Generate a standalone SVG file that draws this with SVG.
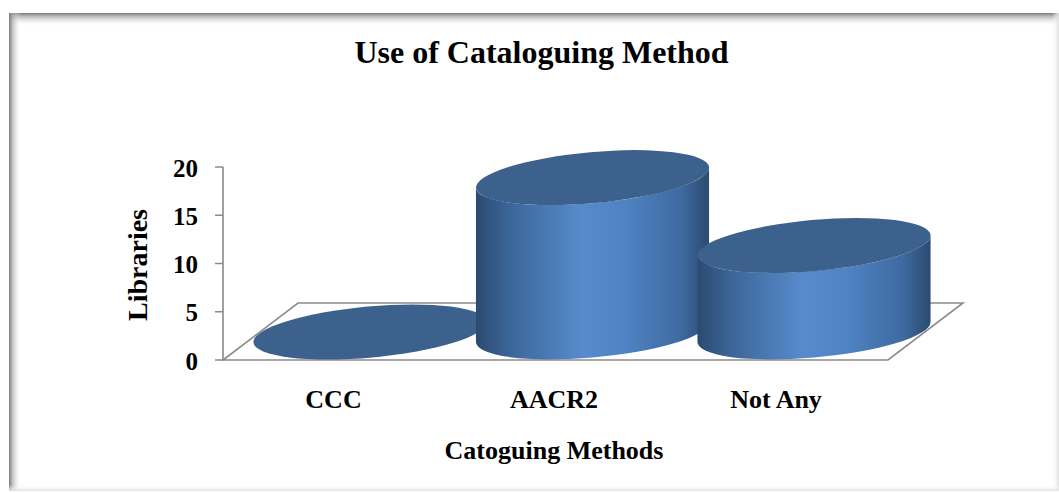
<svg xmlns="http://www.w3.org/2000/svg" width="1059" height="493" viewBox="0 0 1059 493">
<defs>
<linearGradient id="shTop" x1="0" y1="0" x2="0" y2="1">
<stop offset="0" stop-color="#7a7a7a" stop-opacity="1"/>
<stop offset="0.3" stop-color="#a8a8a8" stop-opacity="0.7"/>
<stop offset="1" stop-color="#ffffff" stop-opacity="0"/>
</linearGradient>
<linearGradient id="shLeft" x1="0" y1="0" x2="1" y2="0">
<stop offset="0" stop-color="#7a7a7a" stop-opacity="1"/>
<stop offset="0.3" stop-color="#a8a8a8" stop-opacity="0.7"/>
<stop offset="1" stop-color="#ffffff" stop-opacity="0"/>
</linearGradient>
<linearGradient id="shRight" x1="1" y1="0" x2="0" y2="0">
<stop offset="0" stop-color="#e0e0e0" stop-opacity="1"/>
<stop offset="1" stop-color="#ffffff" stop-opacity="0"/>
</linearGradient>
<linearGradient id="shBottom" x1="0" y1="1" x2="0" y2="0">
<stop offset="0" stop-color="#e0e0e0" stop-opacity="1"/>
<stop offset="1" stop-color="#ffffff" stop-opacity="0"/>
</linearGradient>
<linearGradient id="side" x1="0" y1="0" x2="1" y2="0">
<stop offset="0" stop-color="#2c4a70"/>
<stop offset="0.15" stop-color="#3c6699"/>
<stop offset="0.45" stop-color="#578bcc"/>
<stop offset="0.65" stop-color="#4e82c2"/>
<stop offset="0.88" stop-color="#3e6aa0"/>
<stop offset="1" stop-color="#2b4a71"/>
</linearGradient>
</defs>
<style>
text{font-family:"Liberation Serif","Times New Roman",serif;font-weight:bold;fill:#000}
.title{font-size:32px}
.lbl{font-size:26px}
.ylbl{font-size:28px}
.tick{font-size:25px}
.axis{fill:none;stroke:#8a8a8a;stroke-width:1.6}
.top{fill:#3d618d}
.side{fill:url(#side)}
</style>
<rect x="0" y="0" width="1059" height="493" fill="#ffffff"/>
<g id="frame">
<rect x="9" y="13" width="1050" height="478" fill="#ffffff"/>
<rect x="9" y="13" width="1050" height="13" fill="url(#shTop)"/>
<rect x="9" y="13" width="12" height="478" fill="url(#shLeft)"/>
<rect x="1052" y="13" width="7" height="478" fill="url(#shRight)"/>
<rect x="9" y="485" width="1050" height="6" fill="url(#shBottom)"/>
</g>
<g id="title"><text class="title" x="541.5" y="63" text-anchor="middle">Use of Cataloguing Method</text></g>
<g id="axes">
<path class="axis" d="M223,167 V360 M215,167 H223 M215,215.3 H223 M215,263.5 H223 M215,311.8 H223 M215,360 H223"/>
<path class="axis" d="M223,360 H888 L963,303 H298 Z"/>
<text class="tick" x="198" y="177" text-anchor="end">20</text>
<text class="tick" x="198" y="225" text-anchor="end">15</text>
<text class="tick" x="198" y="273" text-anchor="end">10</text>
<text class="tick" x="198" y="321" text-anchor="end">5</text>
<text class="tick" x="198" y="370" text-anchor="end">0</text>
<text class="ylbl" transform="translate(147,265) rotate(-90)" text-anchor="middle">Libraries</text>
<text class="lbl" x="333.5" y="408" text-anchor="middle">CCC</text>
<text class="lbl" x="554" y="408" text-anchor="middle">AACR2</text>
<text class="lbl" x="776" y="408" text-anchor="middle">Not Any</text>
<text class="lbl" x="554" y="459" text-anchor="middle">Catoguing Methods</text>
</g>
<g id="bar-ccc">
<ellipse class="top" cx="370" cy="332" rx="117" ry="25.5" transform="rotate(-5.15 370 332)"/>
</g>
<g id="bar-aacr2">
<path class="side" d="M475.95,187.6 L475.95,342 A117 25.5 -5.15 0 0 709.05,322 L709.05,167.6 A117 25.5 -5.15 0 1 475.95,187.6 Z"/>
<ellipse class="top" cx="592.5" cy="177.6" rx="117" ry="25.5" transform="rotate(-5.15 592.5 177.6)"/>
</g>
<g id="bar-notany">
<path class="side" d="M697.45,255.5 L697.45,342 A117 25.5 -5.15 0 0 930.55,322 L930.55,235.5 A117 25.5 -5.15 0 1 697.45,255.5 Z"/>
<ellipse class="top" cx="814" cy="245.5" rx="117" ry="25.5" transform="rotate(-5.15 814 245.5)"/>
</g>
</svg>
